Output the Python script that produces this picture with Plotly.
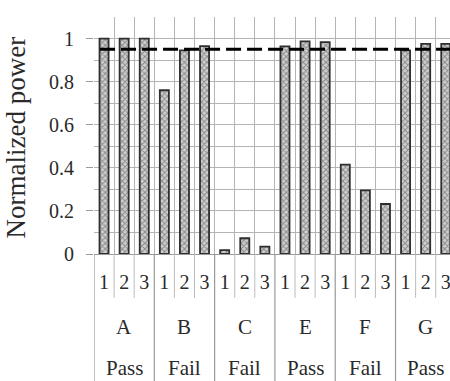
import plotly.graph_objects as go

# ---- data ----
GROUPS = ["A", "B", "C", "E", "F", "G"]
STATUS = ["Pass", "Fail", "Fail", "Pass", "Fail", "Pass"]
RUNS = ["1", "2", "3"]
A_VALUES = [1.00, 1.00, 1.00]
B_VALUES = [0.76, 0.945, 0.965]
C_VALUES = [0.018, 0.073, 0.034]
E_VALUES = [0.964, 0.987, 0.983]
F_VALUES = [0.415, 0.295, 0.232]
G_VALUES = [0.945, 0.975, 0.975]
THRESHOLD = 0.95
Y_TICKS = [0, 0.2, 0.4, 0.6, 0.8, 1]

group_values = [A_VALUES, B_VALUES, C_VALUES, E_VALUES, F_VALUES, G_VALUES]
n_runs = len(RUNS)
xs, ys, labels = [], [], []
for g, vals in enumerate(group_values):
    for i, v in enumerate(vals):
        xs.append(g * n_runs + i)
        ys.append(v)
        labels.append(RUNS[i])

SERIF = "Liberation Serif"
GRID = "#b4b4b4"
TXT = "#2a2a2a"

fig = go.Figure()
fig.add_trace(go.Bar(
    x=xs, y=ys, width=0.45,
    marker=dict(
        color="#c8c8c8",
        line=dict(color="#2e2e2e", width=1.8),
        pattern=dict(shape="x", fgcolor="#444444", bgcolor="#d0d0d0",
                     size=4, solidity=0.45),
    ),
    hoverinfo="x+y",
))

# threshold dashed line
fig.add_hline(y=THRESHOLD, x0=0.017, x1=1, line=dict(color="black", width=3, dash="15px,6px"),
              layer="above")

n_cat = len(xs)
# separators below the axis
for b in range(n_cat + 1):
    xb = b - 0.5
    long = (b % n_runs == 0)
    fig.add_shape(type="line", xref="x", yref="paper", x0=xb, x1=xb,
                  y0=0, y1=-0.54 if long else -0.185,
                  line=dict(color="#999999" if long else "#bbbbbb", width=1.2 if long else 1))

# group letters and status
for g, (name, st) in enumerate(zip(GROUPS, STATUS)):
    xc = g * n_runs + (n_runs - 1) / 2
    fig.add_annotation(x=xc, y=-0.308, xref="x", yref="paper", text=name, showarrow=False,
                       font=dict(family=SERIF, size=21, color=TXT), yanchor="middle")
    fig.add_annotation(x=xc, y=-0.482, xref="x", yref="paper", text=st, showarrow=False,
                       font=dict(family=SERIF, size=21, color=TXT), yanchor="middle")

# y title
fig.add_annotation(x=-0.22, y=0.49, xref="paper", yref="paper", text="Normalized power",
                   textangle=-90, showarrow=False, font=dict(family=SERIF, size=27, color=TXT),
                   xanchor="center", yanchor="middle")

fig.update_layout(
    width=450, height=381,
    margin=dict(l=94, r=0, t=17, b=127),
    paper_bgcolor="white", plot_bgcolor="white",
    showlegend=False,
    font=dict(family=SERIF),
    xaxis=dict(
        range=[-0.5, 17.21],
        tickmode="array", tickvals=xs, ticktext=labels,
        ticks="", ticklabelstandoff=14, ticklabeloverflow="allow",
        tickfont=dict(family=SERIF, size=20, color=TXT),
        showgrid=False, zeroline=False, showline=False,
        minor=dict(tickmode="array", tickvals=[b - 0.5 for b in range(n_cat + 1)],
                   showgrid=True, gridcolor=GRID, gridwidth=1, ticks=""),
    ),
    yaxis=dict(
        range=[0, 1.1],
        tickmode="array", tickvals=Y_TICKS, ticktext=[str(t) if t not in (0, 1) else str(int(t)) for t in Y_TICKS],
        ticks="outside", ticklen=7, tickcolor="#999999", ticklabelstandoff=8,
        tickfont=dict(family=SERIF, size=20, color=TXT),
        showgrid=True, gridcolor=GRID, gridwidth=1,
        zeroline=True, zerolinecolor="#999999", zerolinewidth=1.2,
        showline=False,
        minor=dict(dtick=0.1, tick0=0, showgrid=True, gridcolor=GRID, gridwidth=1),
    ),
)

fig.write_html("out.html", config={"displayModeBar": False},
               post_script="document.body.style.margin='0';document.body.style.overflow='hidden';")
